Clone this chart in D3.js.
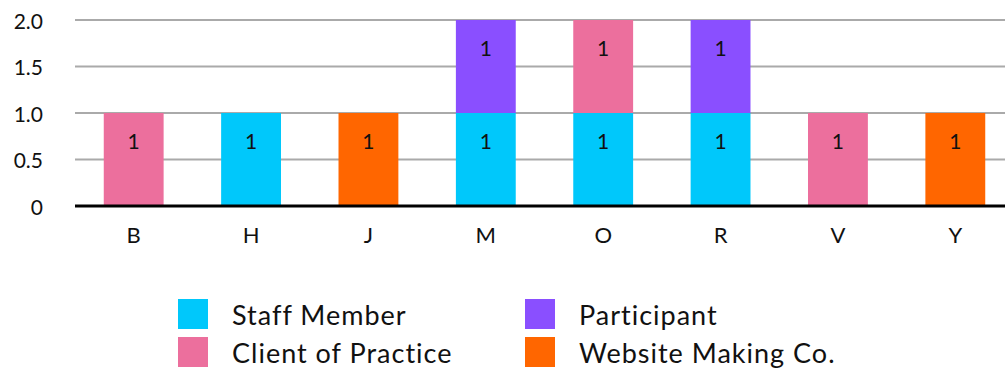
<!DOCTYPE html>
<html>
<head>
<meta charset="utf-8">
<script src="https://cdn.jsdelivr.net/npm/d3@7"></script>
<style>
  html, body { margin: 0; padding: 0; background: #fff; }
  svg { display: block; }
  text { font-family: Lato, "Open Sans", sans-serif; fill: #111; }
</style>
</head>
<body>
<svg id="chart" width="1005" height="369"></svg>
<script>
// Categories along the x axis
const categories = ["B", "H", "J", "M", "O", "R", "V", "Y"];

// Series values, one per category
const seriesNames = ["Staff Member", "Client of Practice", "Participant", "Website Making Co."];
const staffMember    = [0, 1, 0, 1, 1, 1, 0, 0];
const clientPractice = [1, 0, 0, 0, 1, 0, 1, 0];
const participant    = [0, 0, 0, 1, 0, 1, 0, 0];
const websiteMaking  = [0, 0, 1, 0, 0, 0, 0, 1];
const seriesColors = ["#00c8fb", "#ec6f9d", "#8a4fff", "#ff6600"];

// Y axis tick values and labels
const yTicks = [0, 0.5, 1.0, 1.5, 2.0];
const yTickLabels = ["0", "0.5", "1.0", "1.5", "2.0"];

const svg = d3.select("#chart");
const W = 1005;

const rows = categories.map((c, i) => ({
  cat: c,
  "Staff Member": staffMember[i],
  "Client of Practice": clientPractice[i],
  "Participant": participant[i],
  "Website Making Co.": websiteMaking[i]
}));

const x = d3.scaleBand().domain(categories).range([75, 1014]).paddingInner(0.49).paddingOuter(0.245);
const y = d3.scaleLinear().domain([0, 2]).range([206, 20]);
const color = d3.scaleOrdinal().domain(seriesNames).range(seriesColors);

// gridlines
svg.append("g").selectAll("line")
  .data(yTicks.filter(t => t > 0))
  .join("line")
  .attr("x1", 75).attr("x2", W)
  .attr("y1", d => y(d)).attr("y2", d => y(d))
  .attr("stroke", "#aaaaaa").attr("stroke-width", 2);

// y tick labels
svg.append("g").selectAll("text")
  .data(yTicks)
  .join("text")
  .attr("x", 43).attr("y", d => y(d))
  .attr("text-anchor", "end").attr("dominant-baseline", "central")
  .attr("font-size", 21)
  .text((d, i) => yTickLabels[i]);

// stacked bars
const stacked = d3.stack().keys(seriesNames)(rows);
const segs = [];
stacked.forEach(layer => {
  layer.forEach(d => {
    if (d[1] - d[0] > 0) segs.push({ key: layer.key, cat: d.data.cat, y0: d[0], y1: d[1] });
  });
});

svg.append("g").selectAll("rect")
  .data(segs)
  .join("rect")
  .attr("x", d => x(d.cat))
  .attr("width", x.bandwidth())
  .attr("y", d => y(d.y1))
  .attr("height", d => y(d.y0) - y(d.y1))
  .attr("fill", d => color(d.key));

// value labels inside segments
svg.append("g").selectAll("text")
  .data(segs)
  .join("text")
  .attr("x", d => x(d.cat) + x.bandwidth() / 2)
  .attr("y", d => y(d.y1) + 27)
  .attr("text-anchor", "middle").attr("dominant-baseline", "central")
  .attr("font-size", 21)
  .text(d => d3.format("d")(d.y1 - d.y0));

// baseline
svg.append("line")
  .attr("x1", 75).attr("x2", W)
  .attr("y1", y(0)).attr("y2", y(0))
  .attr("stroke", "#000").attr("stroke-width", 3);

// category labels
svg.append("g").selectAll("text")
  .data(categories)
  .join("text")
  .attr("x", d => x(d) + x.bandwidth() / 2)
  .attr("y", 234)
  .attr("text-anchor", "middle").attr("dominant-baseline", "central")
  .attr("font-size", 22)
  .text(d => d);

// legend, two columns
const legendPos = [[178, 299], [178, 337], [525, 299], [525, 337]];
const legend = svg.append("g").selectAll("g")
  .data(seriesNames)
  .join("g")
  .attr("transform", (d, i) => `translate(${legendPos[i][0]},${legendPos[i][1]})`);
legend.append("rect").attr("width", 30).attr("height", 30).attr("fill", d => color(d));
legend.append("text")
  .attr("x", 54).attr("y", 15)
  .attr("dominant-baseline", "central")
  .attr("font-size", 27)
  .attr("letter-spacing", 1)
  .text(d => d);
</script>
</body>
</html>
